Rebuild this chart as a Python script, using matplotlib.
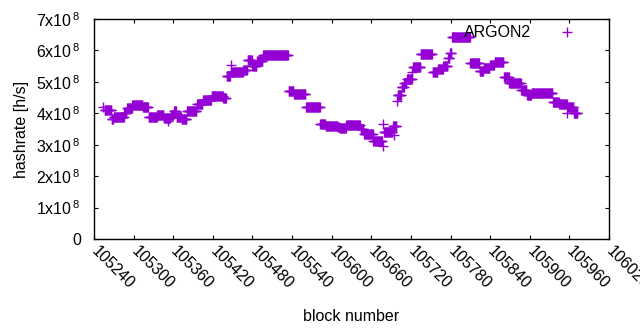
import numpy as np
import matplotlib
matplotlib.use("Agg")
import matplotlib.pyplot as plt

plt.rcParams['font.family'] = ['Liberation Sans', 'DejaVu Sans']
plt.rcParams['mathtext.fontset'] = 'custom'
plt.rcParams['mathtext.rm'] = 'Liberation Sans'

# runs of consecutive blocks with the same hashrate
run_start = [105254, 105256, 105267, 105270, 105286, 105290, 105298, 105314,
             105323, 105336, 105346, 105352, 105356, 105361, 105365, 105373,
             105381, 105396, 105405, 105418, 105436, 105441, 105447, 105448,
             105466, 105473, 105480, 105487, 105496, 105535, 105543, 105561,
             105583, 105591, 105609, 105612, 105622, 105644, 105649, 105663,
             105677, 105678, 105679, 105693, 105694, 105699, 105700, 105706,
             105710, 105714, 105722, 105723, 105735, 105753, 105761, 105769,
             105776, 105779, 105782, 105810, 105824, 105830, 105840, 105847,
             105861, 105869, 105887, 105896, 105903, 105935, 105945, 105957,
             105958, 105967]
run_end = [105254, 105266, 105269, 105285, 105289, 105297, 105313, 105322,
           105335, 105345, 105355, 105352, 105360, 105364, 105372, 105380,
           105395, 105404, 105417, 105435, 105440, 105446, 105447, 105465,
           105471, 105479, 105486, 105495, 105534, 105542, 105560, 105582,
           105590, 105608, 105611, 105621, 105643, 105648, 105662, 105676,
           105677, 105678, 105692, 105698, 105694, 105699, 105705, 105709,
           105713, 105721, 105722, 105734, 105752, 105760, 105768, 105775,
           105778, 105781, 105809, 105823, 105829, 105839, 105846, 105860,
           105868, 105886, 105895, 105902, 105934, 105944, 105956, 105957,
           105966, 105972]
run_value = [4.20, 4.12, 3.82, 3.89, 4.02, 4.17, 4.27, 4.20,
             3.88, 3.95, 3.86, 3.75, 3.93, 4.06, 3.88, 3.82,
             4.08, 4.30, 4.43, 4.55, 4.49, 5.19, 5.53, 5.30,
             5.38, 5.70, 5.50, 5.66, 5.85, 4.72, 4.62, 4.19,
             3.66, 3.60, 3.55, 3.54, 3.64, 3.50, 3.34, 3.12,
             2.96, 3.66, 3.40, 3.60, 3.31, 4.38, 4.58, 4.85,
             4.97, 5.10, 5.30, 5.47, 5.88, 5.31, 5.40, 5.50,
             5.75, 5.92, 6.42, 5.60, 5.35, 5.44, 5.53, 5.63,
             5.15, 4.96, 4.74, 4.58, 4.66, 4.36, 4.30, 4.00,
             4.20, 4.00]

blocks = np.concatenate([np.arange(s, e + 1) for s, e in zip(run_start, run_end)])
hashrate = np.repeat(np.array(run_value) * 1e8,
                     [e - s + 1 for s, e in zip(run_start, run_end)])

x_ticks = list(range(105240, 106021, 60))
y_ticks = [i * 1e8 for i in range(8)]
y_labels = ['0'] + ['%dx10$^{\\,\\mathregular{8}}$' % i for i in range(1, 8)]

fs = 11.5
fig = plt.figure(figsize=(6.4, 3.3), dpi=100)
ax = fig.add_axes([94 / 640, 91 / 330, 515 / 640, 220 / 330])

ax.plot(blocks, hashrate, linestyle='none', marker='+', ms=6.5, mew=1.0,
        color='#9400D3', label='ARGON2')

ax.set_xlim(105240, 106020)
ax.set_ylim(0, 7e8)
ax.set_xticks(x_ticks)
ax.set_xticklabels([str(t) for t in x_ticks], rotation=-45, ha='left',
                   va='center', rotation_mode='anchor')
ax.set_yticks(y_ticks)
ax.set_yticklabels(y_labels)
ax.tick_params(direction='in', length=3, width=0.8, top=True, right=True,
               labelsize=fs, colors='black')
ax.tick_params(axis='y', pad=9.5)
ax.tick_params(axis='x', pad=7)
for sp in ax.spines.values():
    sp.set_linewidth(1.0)

ax.set_xlabel('block number', fontsize=fs, labelpad=12)
ax.set_ylabel('hashrate [h/s]', fontsize=fs, labelpad=5)

ax.legend(loc='upper right', bbox_to_anchor=(0.97, 1.0), frameon=False,
          markerfirst=False, fontsize=fs, handlelength=2.5, handletextpad=1.0,
          borderaxespad=0.0)

fig.savefig('out.png', dpi=100)
